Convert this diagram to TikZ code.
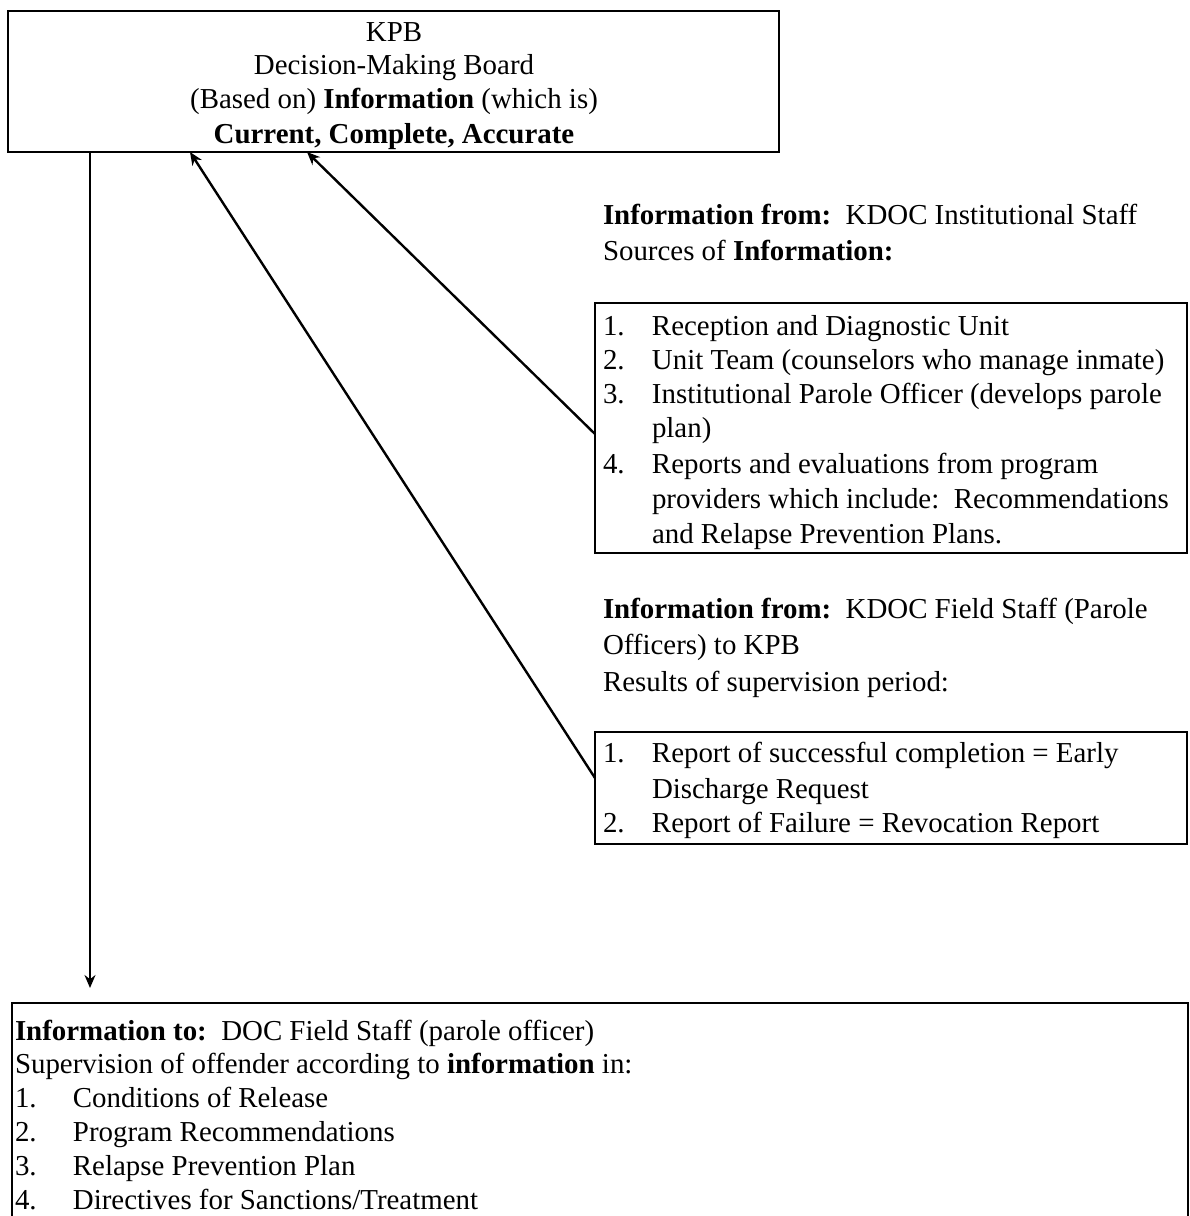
\documentclass[tikz,border=0pt]{standalone}
\usepackage{fontspec}
\setmainfont{Liberation Serif}
\usetikzlibrary{arrows.meta,calc}
\begin{document}
\begin{tikzpicture}[x=1pt,y=-1pt,
  every node/.style={inner sep=0pt, outer sep=0pt},
  txt/.style={anchor=base west, font=\fontsize{28.9}{34.5}\selectfont},
  ctxt/.style={anchor=base, font=\fontsize{28.9}{34.5}\selectfont},
  box/.style={draw, line width=2.6pt, anchor=north west},
  conn/.style={line width=2.4pt, -{Stealth[length=13pt,width=11pt]}}
]
\useasboundingbox (0,0) rectangle (1190,1216);
\clip (0,0) rectangle (1190,1216);

% boxes
\node[box, minimum width=771pt, minimum height=141pt] (kpb) at (8,11) {};
\node[box, minimum width=592pt, minimum height=250pt] (inst) at (595,303) {};
\node[box, minimum width=592pt, minimum height=112pt] (field) at (595,732) {};
\node[box, minimum width=1176pt, minimum height=260pt] (doc) at (12,1003) {};

% top box text
\node[ctxt] (k1) at (394,41) {KPB};
\node[ctxt] (k2) at (394,74) {Decision-Making Board};
\node[ctxt] (k3) at (394,108) {(Based on) \textbf{Information} (which is)};
\node[ctxt] (k4) at (394,143) {\textbf{Current, Complete, Accurate}};

% institutional
\node[txt] (i0) at (603,224) {\textbf{Information from:}\ \ KDOC Institutional Staff};
\node[txt] (i00) at (603,260) {Sources of \textbf{Information:}};
\node[txt] (i1) at (603,335) {\makebox[49pt][l]{1.}Reception and Diagnostic Unit};
\node[txt] (i2) at (603,369) {\makebox[49pt][l]{2.}Unit Team (counselors who manage inmate)};
\node[txt] (i3) at (603,403) {\makebox[49pt][l]{3.}Institutional Parole Officer (develops parole};
\node[txt] (i3b) at (652,437) {plan)};
\node[txt] (i4) at (603,473) {\makebox[49pt][l]{4.}Reports and evaluations from program};
\node[txt] (i4b) at (652,508) {providers which include:\ \ Recommendations};
\node[txt] (i4c) at (652,543) {and Relapse Prevention Plans.};

% field
\node[txt] (f0) at (603,618) {\textbf{Information from:}\ \ KDOC Field Staff (Parole};
\node[txt] (f00) at (603,654) {Officers) to KPB};
\node[txt] (f000) at (603,691) {Results of supervision period:};
\node[txt] (f1) at (603,762) {\makebox[49pt][l]{1.}Report of successful completion = Early};
\node[txt] (f1b) at (652,798) {Discharge Request};
\node[txt] (f2) at (603,832) {\makebox[49pt][l]{2.}Report of Failure = Revocation Report};

% bottom
\node[txt] (d0) at (15,1040) {\textbf{Information to:}\ \ DOC Field Staff (parole officer)};
\node[txt] (d00) at (15,1073) {Supervision of offender according to \textbf{information} in:};
\node[txt] (d1) at (15,1107) {\makebox[58pt][l]{1.}Conditions of Release};
\node[txt] (d2) at (15,1141) {\makebox[58pt][l]{2.}Program Recommendations};
\node[txt] (d3) at (15,1175) {\makebox[58pt][l]{3.}Relapse Prevention Plan};
\node[txt] (d4) at (15,1209) {\makebox[58pt][l]{4.}Directives for Sanctions/Treatment};

% connectors
\coordinate (down) at ($(doc.north west)+(78,-15)$);
\draw[conn] ($(kpb.south west)+(82,0)$) -- (down -| {$(kpb.south west)+(82,0)$});
\draw[conn] ($(inst.west)+(0,6)$) -- ($(kpb.south west)+(299,0)$);
\draw[conn] ($(field.west)+(0,-10)$) -- ($(kpb.south west)+(182,0)$);
\end{tikzpicture}
\end{document}
